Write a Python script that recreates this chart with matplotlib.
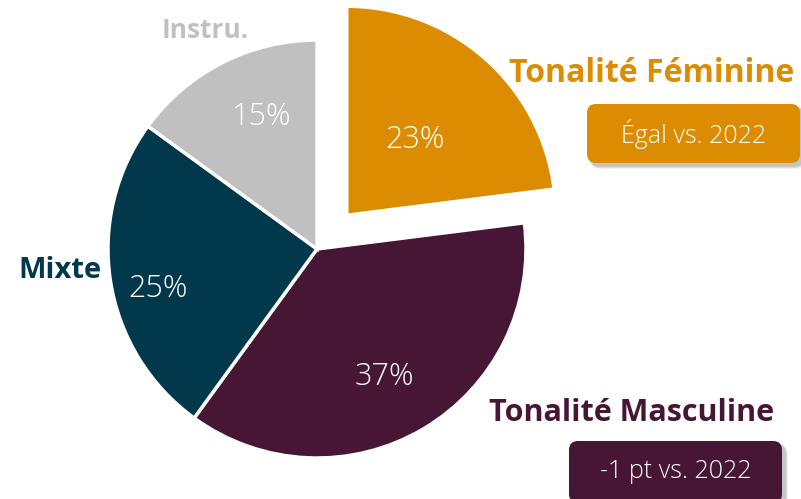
import matplotlib.pyplot as plt
from matplotlib.patches import FancyBboxPatch

# data
labels = ['Tonalité Féminine', 'Tonalité Masculine', 'Mixte', 'Instru.']
shares = [23, 37, 25, 15]
colors = ['#DB8C00', '#461634', '#02384B', '#C0C0C0']
evolutions = ['Égal vs. 2022', '-1 pt vs. 2022']

W, H = 801, 499
fig = plt.figure(figsize=(W / 100, H / 100), dpi=100)
ax = fig.add_axes([0, 0, 1, 1])
ax.set_xlim(0, W)
ax.set_ylim(0, H)
ax.axis('off')

def py(y):
    # pixel row (from top) -> data y
    return H - y

font = ['Open Sans', 'DejaVu Sans']

# explode is in data units here (pixels), the Féminine slice is pulled out
wedges, _ = ax.pie(shares, colors=colors, explode=[45, 0, 0, 0], startangle=90,
                   counterclock=False, center=(317, py(249)), radius=209,
                   wedgeprops=dict(edgecolor='white', linewidth=2.5))
ax.set_xlim(0, W)
ax.set_ylim(0, H)
ax.set_aspect('equal')

# percentage labels
pct_pos = [(415, 140), (384, 377), (158, 289), (262, 117)]
for v, (x, y) in zip(shares, pct_pos):
    ax.text(x, py(y), f'{v}%', color='white', fontsize=22, fontweight='light',
            family=font, ha='center', va='center')

# category labels
lab_pos = [(652, 73), (632, 413), (60, 270), (205, 30)]
lab_size = [23, 22, 21, 19]
for lab, c, (x, y), fs in zip(labels, colors, lab_pos, lab_size):
    ax.text(x, py(y), lab, color=c, fontsize=fs,
            fontweight='bold', family=font, ha='center', va='center')

# evolution boxes
boxes = [(587, 104, 213, 59, colors[0]), (569, 441, 213, 62, colors[1])]
for txt, (x, y, w, h, c) in zip(evolutions, boxes):
    for k, a in [(6, 0.08), (4, 0.12), (2, 0.18)]:
        shadow = FancyBboxPatch((x + 3, py(y + h) - 3 - k / 2), w + k / 2, h + k / 2,
                                boxstyle='round,pad=0,rounding_size=10',
                                facecolor='#555555', edgecolor='none', alpha=a)
        ax.add_patch(shadow)
    box = FancyBboxPatch((x, py(y + h)), w, h,
                         boxstyle='round,pad=0,rounding_size=9',
                         facecolor=c, edgecolor='none')
    ax.add_patch(box)
    ax.text(x + w / 2, py(y + 30), txt, color='white', fontsize=18,
            fontweight='light', family=font, ha='center', va='center')

fig.savefig('out.png', dpi=100)
